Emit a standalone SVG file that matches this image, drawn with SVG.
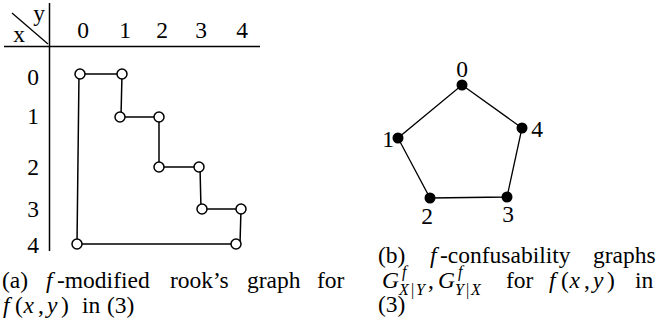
<svg xmlns="http://www.w3.org/2000/svg" width="658" height="327" viewBox="0 0 658 327" font-family="Liberation Serif, Times New Roman, serif">
<style>
text{font-family:'Liberation Serif','Times New Roman',serif;font-size:23.5px;fill:#000}
.c{text-anchor:middle}
.i{font-style:italic}
.s{font-size:16px}
.ln{stroke:#000;stroke-width:1.5;fill:none}
.e{stroke:#000;stroke-width:1.3;fill:none}
.ov{fill:#fff;stroke:#000;stroke-width:1.5}
.bk{fill:#000;stroke:none}
</style>
<rect width="658" height="327" fill="#fff"/>
<g id="table">
<line class="ln" x1="49.5" y1="3" x2="49.5" y2="251"/>
<line class="ln" x1="4" y1="46.5" x2="260" y2="46.5"/>
<line class="e" x1="12" y1="13" x2="48" y2="44"/>
<text class="c" x="39" y="21">y</text>
<text class="c" x="19" y="42">x</text>
<text class="c" x="83" y="38">0</text>
<text class="c" x="125" y="38">1</text>
<text class="c" x="162" y="38">2</text>
<text class="c" x="201" y="38">3</text>
<text class="c" x="242" y="38">4</text>
<text class="c" x="33" y="85">0</text>
<text class="c" x="33" y="124">1</text>
<text class="c" x="33" y="175">2</text>
<text class="c" x="33" y="217">3</text>
<text class="c" x="33" y="253">4</text>
</g>
<g id="rook-edges">
<polyline class="ln" points="79,74 122,74 121,117 159,117 159,167 200,167 201,209 241,209 240,244 77,244 79,74"/>
</g>
<g id="rook-nodes">
<circle class="ov" cx="80" cy="74" r="5"/>
<circle class="ov" cx="122" cy="74" r="5"/>
<circle class="ov" cx="120" cy="117" r="5"/>
<circle class="ov" cx="159" cy="117" r="5"/>
<circle class="ov" cx="159" cy="167" r="5"/>
<circle class="ov" cx="199" cy="167" r="5"/>
<circle class="ov" cx="202" cy="209" r="5"/>
<circle class="ov" cx="241" cy="209" r="5"/>
<circle class="ov" cx="77" cy="244" r="5"/>
<circle class="ov" cx="236" cy="244" r="5"/>
</g>
<g id="pentagon-edges">
<polygon class="e" points="462,85 522,128 507,197 430,198 398,138"/>
</g>
<g id="p0"><circle class="bk" cx="462" cy="85" r="5.5"/><text class="c" x="462" y="77">0</text></g>
<g id="p1"><circle class="bk" cx="398" cy="138" r="5.5"/><text class="c" x="388" y="147">1</text></g>
<g id="p2"><circle class="bk" cx="430" cy="198" r="5.5"/><text class="c" x="427" y="224">2</text></g>
<g id="p3"><circle class="bk" cx="507" cy="197" r="5.5"/><text class="c" x="508" y="222">3</text></g>
<g id="p4"><circle class="bk" cx="522" cy="128" r="5.5"/><text class="c" x="537" y="137">4</text></g>
<g id="caption-a">
<text x="2" y="288">(a)</text>
<text y="288"><tspan class="i" x="46">f</tspan><tspan x="57">-modified</tspan></text>
<text x="170" y="288">rook’s</text>
<text x="247" y="288">graph</text>
<text x="317" y="288">for</text>
<text y="313"><tspan class="i" x="3">f</tspan><tspan x="15">(</tspan><tspan class="i" x="23.5">x</tspan><tspan x="38">,</tspan><tspan class="i" x="47">y</tspan><tspan x="61">)</tspan><tspan x="82">in</tspan><tspan x="107">(3)</tspan></text>
</g>
<g id="caption-b">
<text x="378" y="263">(b)</text>
<text y="263"><tspan class="i" x="430">f</tspan><tspan x="440">-confusability</tspan></text>
<text x="593" y="263">graphs</text>
<text class="i" x="382" y="288">G</text>
<text class="i s" x="402" y="277">f</text>
<text class="s" y="295"><tspan class="i" x="399">X</tspan><tspan x="411">|</tspan><tspan class="i" x="416">Y</tspan></text>
<text x="428" y="288">,</text>
<text class="i" x="438" y="288">G</text>
<text class="i s" x="458" y="277">f</text>
<text class="s" y="295"><tspan class="i" x="455">Y</tspan><tspan x="466">|</tspan><tspan class="i" x="471">X</tspan></text>
<text x="506" y="288">for</text>
<text y="288"><tspan class="i" x="549">f</tspan><tspan x="561">(</tspan><tspan class="i" x="569.5">x</tspan><tspan x="584">,</tspan><tspan class="i" x="593">y</tspan><tspan x="607">)</tspan></text>
<text x="635" y="288">in</text>
<text x="378" y="312">(3)</text>
</g>
</svg>
